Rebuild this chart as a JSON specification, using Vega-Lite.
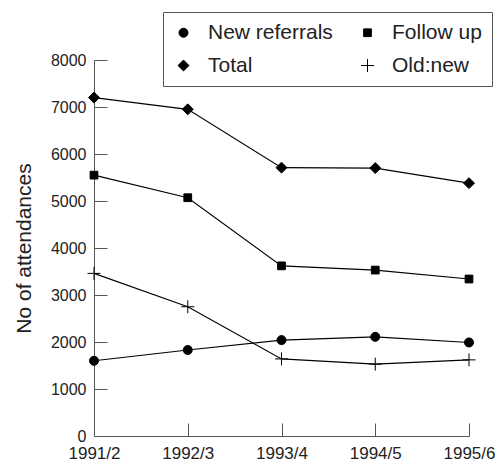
{
  "$schema": "https://vega.github.io/schema/vega-lite/v6.json",
  "width": 375,
  "height": 376,
  "autosize": {"type": "none"},
  "padding": {"left": 94, "top": 60, "right": 26, "bottom": 26},
  "background": "white",
  "config": {"view": {"stroke": null}, "font": "Liberation Sans"},
  "data": {"values": [
    {"year": "1991/2", "series": "New referrals", "value": 1600},
    {"year": "1992/3", "series": "New referrals", "value": 1830},
    {"year": "1993/4", "series": "New referrals", "value": 2040},
    {"year": "1994/5", "series": "New referrals", "value": 2110},
    {"year": "1995/6", "series": "New referrals", "value": 1990},
    {"year": "1991/2", "series": "Follow up", "value": 5550},
    {"year": "1992/3", "series": "Follow up", "value": 5070},
    {"year": "1993/4", "series": "Follow up", "value": 3620},
    {"year": "1994/5", "series": "Follow up", "value": 3530},
    {"year": "1995/6", "series": "Follow up", "value": 3340},
    {"year": "1991/2", "series": "Total", "value": 7200},
    {"year": "1992/3", "series": "Total", "value": 6950},
    {"year": "1993/4", "series": "Total", "value": 5710},
    {"year": "1994/5", "series": "Total", "value": 5700},
    {"year": "1995/6", "series": "Total", "value": 5380},
    {"year": "1991/2", "series": "Old:new", "value": 3460},
    {"year": "1992/3", "series": "Old:new", "value": 2750},
    {"year": "1993/4", "series": "Old:new", "value": 1640},
    {"year": "1994/5", "series": "Old:new", "value": 1530},
    {"year": "1995/6", "series": "Old:new", "value": 1620}
  ]},
  "encoding": {
    "x": {
      "field": "year", "type": "ordinal",
      "scale": {"type": "point", "padding": 0},
      "axis": {
        "title": null, "labelAngle": 0, "domainColor": "#555", "tickColor": "#555",
        "tickSize": -13, "labelPadding": 22, "labelFontSize": 17, "labelColor": "#222",
        "labelFont": "Liberation Sans"
      }
    },
    "y": {
      "field": "value", "type": "quantitative",
      "scale": {"domain": [0, 8000]},
      "axis": {
        "title": "No of attendances", "titleFontSize": 21, "titleFontWeight": "normal",
        "titleColor": "#222", "titlePadding": 16,
        "values": [0, 1000, 2000, 3000, 4000, 5000, 6000, 7000, 8000],
        "grid": false, "domainColor": "#555", "tickColor": "#555",
        "tickSize": -13, "labelPadding": 21, "labelFontSize": 16, "labelColor": "#222",
        "format": "d"
      }
    }
  },
  "layer": [
    {
      "mark": {"type": "line", "color": "black", "strokeWidth": 1.1},
      "encoding": {"detail": {"field": "series"}}
    },
    {
      "mark": {"type": "point", "filled": true, "color": "black", "stroke": "black", "strokeWidth": 1, "opacity": 1},
      "encoding": {
        "shape": {
          "field": "series", "type": "nominal",
          "scale": {
            "domain": ["New referrals", "Total", "Follow up", "Old:new"],
            "range": ["circle", "diamond", "square", "M-1,0L1,0M0,-1L0,1"]
          },
          "legend": {
            "title": null, "orient": "none", "legendX": 69, "legendY": -48,
            "columns": 2, "strokeColor": "#555", "padding": 10,
            "labelFontSize": 21, "labelColor": "#222", "labelOffset": 14,
            "columnPadding": 24, "rowPadding": 11,
            "symbolStrokeColor": "black", "symbolFillColor": "black", "symbolStrokeWidth": 1
          }
        },
        "size": {
          "field": "series", "type": "nominal",
          "scale": {
            "type": "ordinal",
            "domain": ["New referrals", "Total", "Follow up", "Old:new"],
            "range": [81, 120, 60, 169]
          }
        }
      }
    }
  ]
}
